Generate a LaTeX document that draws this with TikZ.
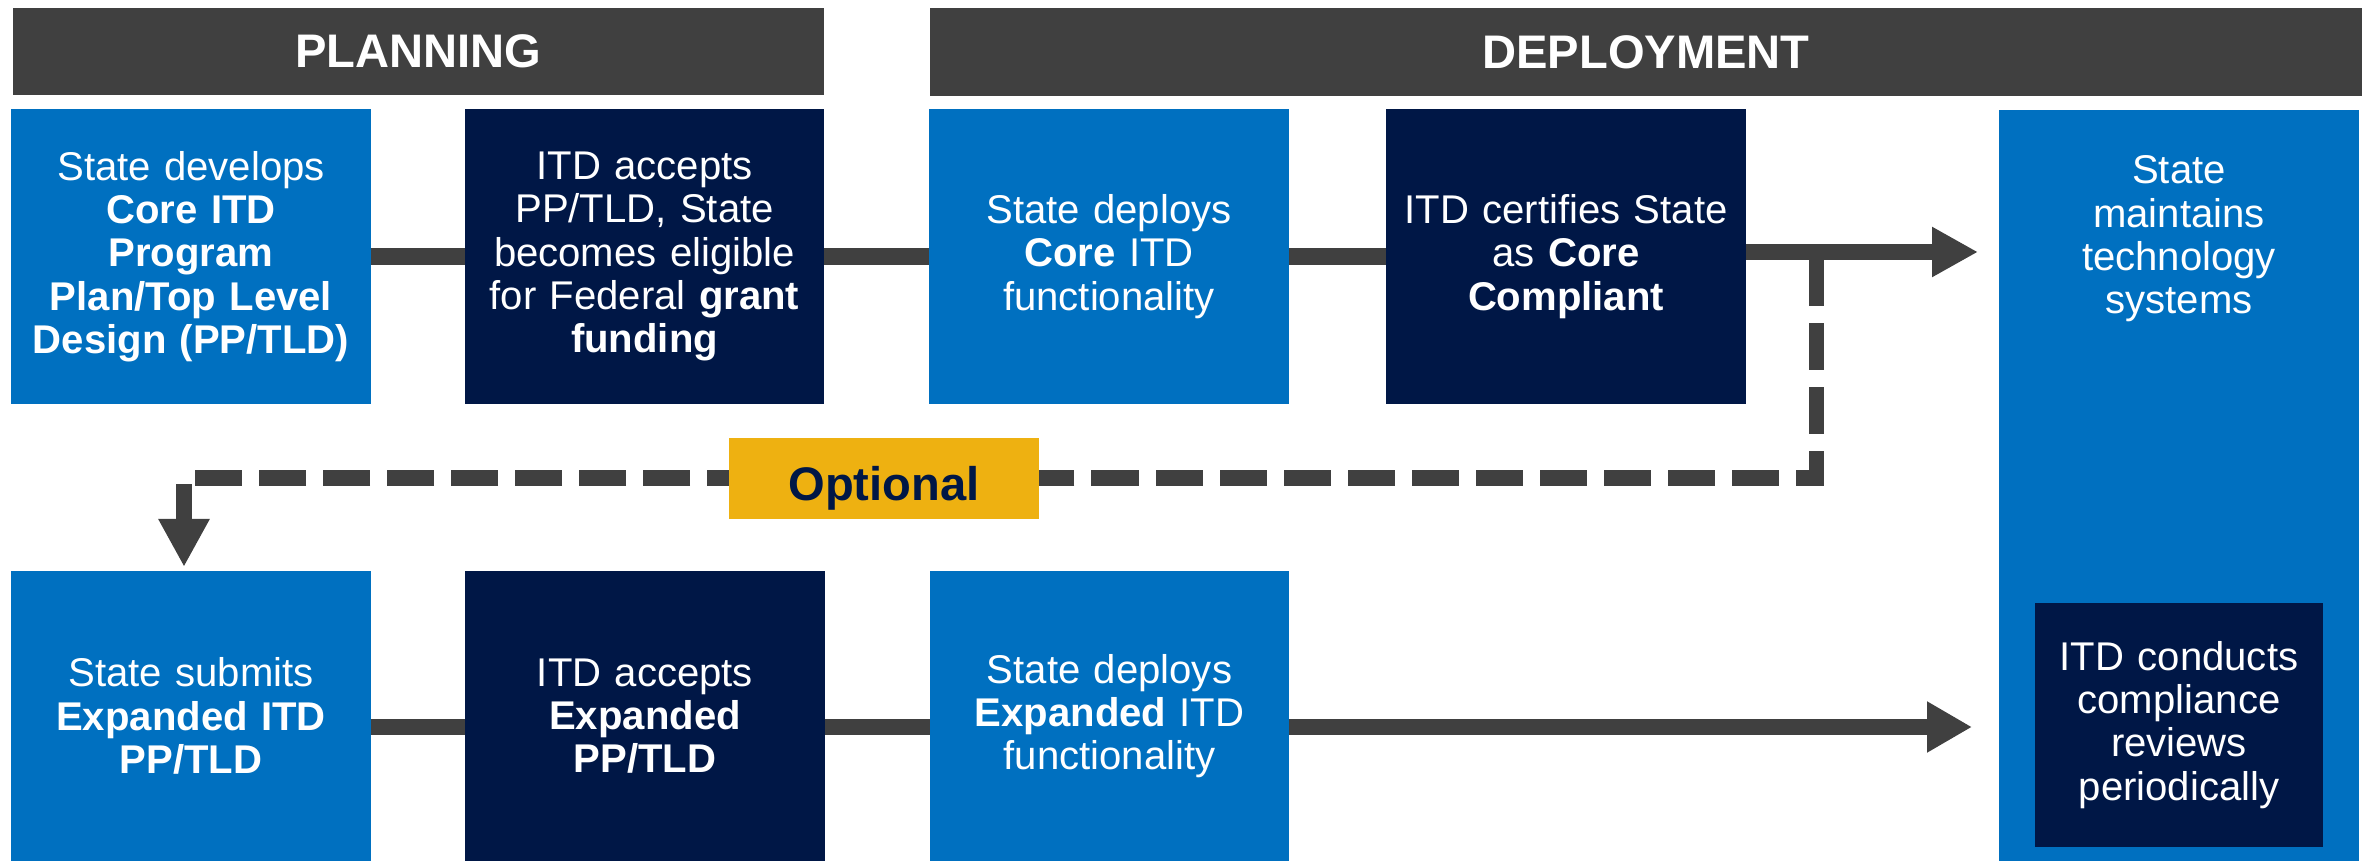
\documentclass[tikz,border=0pt]{standalone}
\usepackage{fontspec}
\setmainfont{Liberation Sans}
\usetikzlibrary{arrows.meta,positioning}
\definecolor{itdblue}{HTML}{0070C0}
\definecolor{itdnavy}{HTML}{001746}
\definecolor{bargray}{HTML}{404040}
\definecolor{optgold}{HTML}{EEB111}

\begin{document}
\begin{tikzpicture}[x=0.01cm, y=-0.01cm,
	every node/.style={inner sep=1pt, outer sep=0, align=center, text=white},
	stepbox/.style={minimum width=3.59cm, minimum height=2.95cm, text width=3.45cm, font=\fontsize{11.4}{12.3}\selectfont},
	lightbox/.style={stepbox, fill=itdblue},
	darkbox/.style={stepbox, fill=itdnavy},
	phase/.style={fill=bargray, minimum height=0.87cm, font=\fontsize{13.4}{16}\selectfont\bfseries},
	link/.style={draw=bargray, line width=0.16cm},
	optline/.style={draw=bargray, line width=0.15cm, dash pattern=on 0.47cm off 0.17cm}]

		\useasboundingbox (0,0) rectangle (2364,861);

		\node[phase, minimum width=8.11cm] (plan) at (418.5,51.5) {PLANNING};
		\node[phase, minimum width=14.32cm] (depl) at (1646,52) {DEPLOYMENT};

		\node[lightbox] (develop) at (191,256.5) {State develops\\\textbf{Core ITD}\\\textbf{Program}\\\textbf{Plan/Top Level}\\\textbf{Design (PP/TLD)}};
		\node[darkbox] (accept) at (644.5,256.5) {ITD accepts\\PP/TLD, State\\becomes eligible\\for Federal \textbf{grant}\\\textbf{funding}};
		\node[lightbox] (deploy) at (1109,256.5) {State deploys\\\textbf{Core} ITD\\functionality};
		\node[darkbox] (certify) at (1566,256.5) {ITD certifies State\\as \textbf{Core}\\\textbf{Compliant}};

		\node[lightbox, minimum height=7.51cm] (maintain) at (2179,485.5) {};
		\node[font=\fontsize{11.4}{12.3}\selectfont] (maintaintxt) at (2179,239) {State\\maintains\\technology\\systems};
		\node[darkbox, minimum width=2.88cm, minimum height=2.44cm, text width=2.8cm] (review) at (2179,725) {ITD conducts\\compliance\\reviews\\periodically};

		\node[lightbox, minimum height=2.90cm] (submit) at (191,716) {State submits\\\textbf{Expanded ITD}\\\textbf{PP/TLD}};
		\node[darkbox, minimum height=2.90cm] (accept2) at (645,716) {ITD accepts\\\textbf{Expanded}\\\textbf{PP/TLD}};
		\node[lightbox, minimum height=2.90cm] (deploy2) at (1109.5,716) {State deploys\\\textbf{Expanded} ITD\\functionality};

		\coordinate (tipA) at (1978,252);
		\coordinate (tipB) at (1972,727);
		\coordinate (branch) at (1816,259);
		\coordinate (turn) at (184,478);

		\foreach \a/\b in {develop/accept, accept/deploy, deploy/certify}{
				\draw[link] (\a) -- (\b);
		}
		\foreach \a/\b in {submit/accept2, accept2/deploy2}{
				\draw[link] (\a.east |- tipB) -- (\b.west |- tipB);
		}
		\draw[link, -{Triangle[length=0.46cm, width=0.47cm]}] (certify.east |- tipA) -- (tipA);
		\draw[link, -{Triangle[length=0.45cm, width=0.48cm]}] (deploy2.east |- tipB) -- (tipB);

		\draw[optline, -{Triangle[length=0.48cm, width=0.48cm]}, shorten >=0.04cm] (branch) |- (turn) -- (turn |- submit.north);
		\node[fill=optgold, text=itdnavy, font=\fontsize{13.4}{16}\selectfont\bfseries, minimum width=3.10cm, minimum height=0.81cm, text height=0.43cm, text depth=0pt] (optional) at (884,478.5) {Optional};

	\end{tikzpicture}
\end{document}
